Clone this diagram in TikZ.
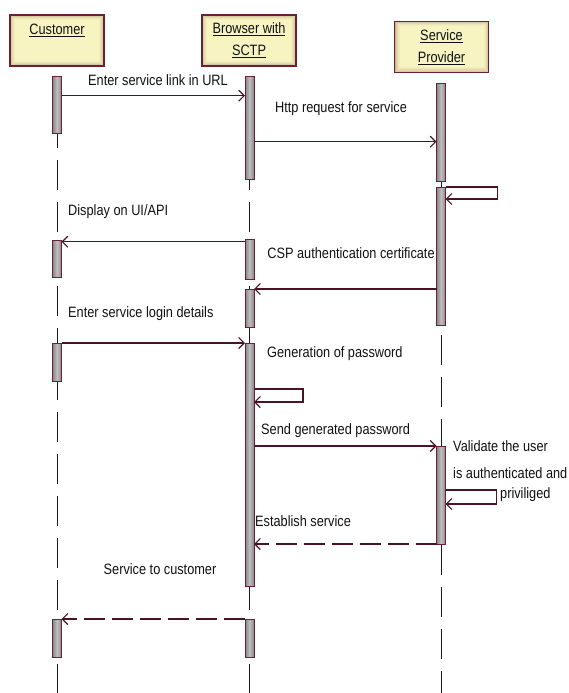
\documentclass[tikz,border=0pt]{standalone}
\usepackage{fontspec}
\setmainfont{Liberation Sans}[FakeStretch=0.85]
\usetikzlibrary{arrows.meta,calc}
\definecolor{maroon}{HTML}{6E1F35}
\definecolor{boxfill}{HTML}{F8F4C2}
\definecolor{boxedge}{HTML}{A08868}
\definecolor{linecol}{HTML}{4A1426}
\definecolor{txt}{HTML}{111111}
\begin{document}
\begin{tikzpicture}[x=1pt,y=-1pt,
 actor/.style={draw=maroon, line width=1.4pt, fill=boxfill, minimum width=94pt, minimum height=51pt,
   inner sep=0pt, font=\fontsize{15}{22}\selectfont, align=center, text=txt,
   path picture={\foreach \i/\o in {1/0.55,2/0.38,3/0.24,4/0.13,5/0.06}{
     \draw[boxedge, line width=1pt, opacity=\o]
       ([xshift=\i pt-0.5pt, yshift=-\i pt+0.5pt]path picture bounding box.north west) rectangle
       ([xshift=-\i pt+0.5pt, yshift=\i pt-0.5pt]path picture bounding box.south east);}}},
 bar/.style={draw=maroon, line width=1pt, left color=gray!95, right color=gray!95, middle color=gray!50,
   minimum width=9pt, inner sep=0pt, outer sep=0pt},
 life/.style={draw=black!90, line width=1pt, dash pattern=on 30pt off 12pt},
 msg/.style={draw=linecol, line width=1.2pt, -{Straight Barb[length=5.5pt,width=11pt]}},
 ret/.style={msg, dash pattern=on 21pt off 7pt},
 lbl/.style={font=\fontsize{15}{16}\selectfont, inner sep=0pt, text=txt}
]
\useasboundingbox (0,0) rectangle (568,693);

% actors
\node[actor] (cust) at (57,40.5) {\underline{Customer}\\ \phantom{X}};
\node[actor] (brow) at (249,40.5) {\underline{Browser with}\\ \underline{SCTP}};
\node[actor] (sp) at (441.5,47) {\underline{Service}\\ \underline{Provider}};

% lifelines
\coordinate (custend) at (57,693);
\coordinate (browend) at (249.5,693);
\coordinate (spend) at (441,693);
\draw[life] (57,76) -- (custend);
\draw[life] (249.5,76) -- (browend);
\draw[life] (441,83) -- (spend);

% activation bars
\node[bar, minimum height=57pt] (c1) at (57,104.5) {};
\node[bar, minimum height=37pt] (c2) at (57,258.5) {};
\node[bar, minimum height=38pt] (c3) at (57,362) {};
\node[bar, minimum height=38pt] (c4) at (57,638) {};
\node[bar, minimum height=103pt] (b1) at (249.5,127.5) {};
\node[bar, minimum height=40pt] (b2) at (249.5,259) {};
\node[bar, minimum height=38pt] (b3) at (249.5,308) {};
\node[bar, minimum height=243pt] (b4) at (249.5,464.5) {};
\node[bar, minimum height=38pt] (b5) at (249.5,638) {};
\node[bar, minimum height=98pt] (s1) at (441,132) {};
\node[bar, minimum height=138pt] (s2) at (441,256) {};
\node[bar, minimum height=98pt] (s3) at (441,495) {};

% messages
\draw[msg] (c1.east |- 0,95.7) -- (b1.west |- 0,95.7);
\node[lbl] (l1) at (158,80) {Enter service link in URL};
\draw[msg] (b1.east |- 0,141.7) -- (s1.west |- 0,141.7);
\node[lbl] (l2) at (341,109) {Http request for service};
\draw[msg] (s2.east |- 0,187) -- ++(52,0) -- ++(0,12) -- (s2.east |- 0,199);
\draw[msg] (b2.west |- 0,241.7) -- (c2.east |- 0,241.7);
\node[lbl, anchor=west] (l3) at (68,212) {Display on UI/API};
\draw[msg] (s2.west |- 0,289) -- (b3.north east);
\node[lbl] (l4) at (351,253) {CSP authentication certificate};
\draw[msg] (c3.north east) -- (b4.north west);
\node[lbl, anchor=west] (l5) at (68,314) {Enter service login details};
\node[lbl, anchor=west] (l6) at (267,354) {Generation of password};
\draw[msg] (b4.east |- 0,389) -- ++(49,0) -- ++(0,13) -- (b4.east |- 0,402);
\draw[msg] (b4.east |- 0,446) -- (s3.north west);
\node[lbl, anchor=west] (l7) at (261,431) {Send generated password};
\node[lbl, anchor=west] (l8) at (453,446) {Validate the user};
\node[lbl, anchor=west] (l9) at (453,473) {is authenticated and};
\draw[msg] (s3.east |- 0,490) -- ++(51,0) -- ++(0,14) -- (s3.east |- 0,504);
\node[lbl, anchor=west] (l10) at (500,495) {priviliged};
\draw[ret] (s3.south west) -- (b4.east |- s3.south west);
\node[lbl, anchor=west] (l11) at (255,521) {Establish service};
\draw[ret] (b5.north west) -- (c4.north east);
\node[lbl] (l12) at (160,569) {Service to customer};
\end{tikzpicture}
\end{document}
